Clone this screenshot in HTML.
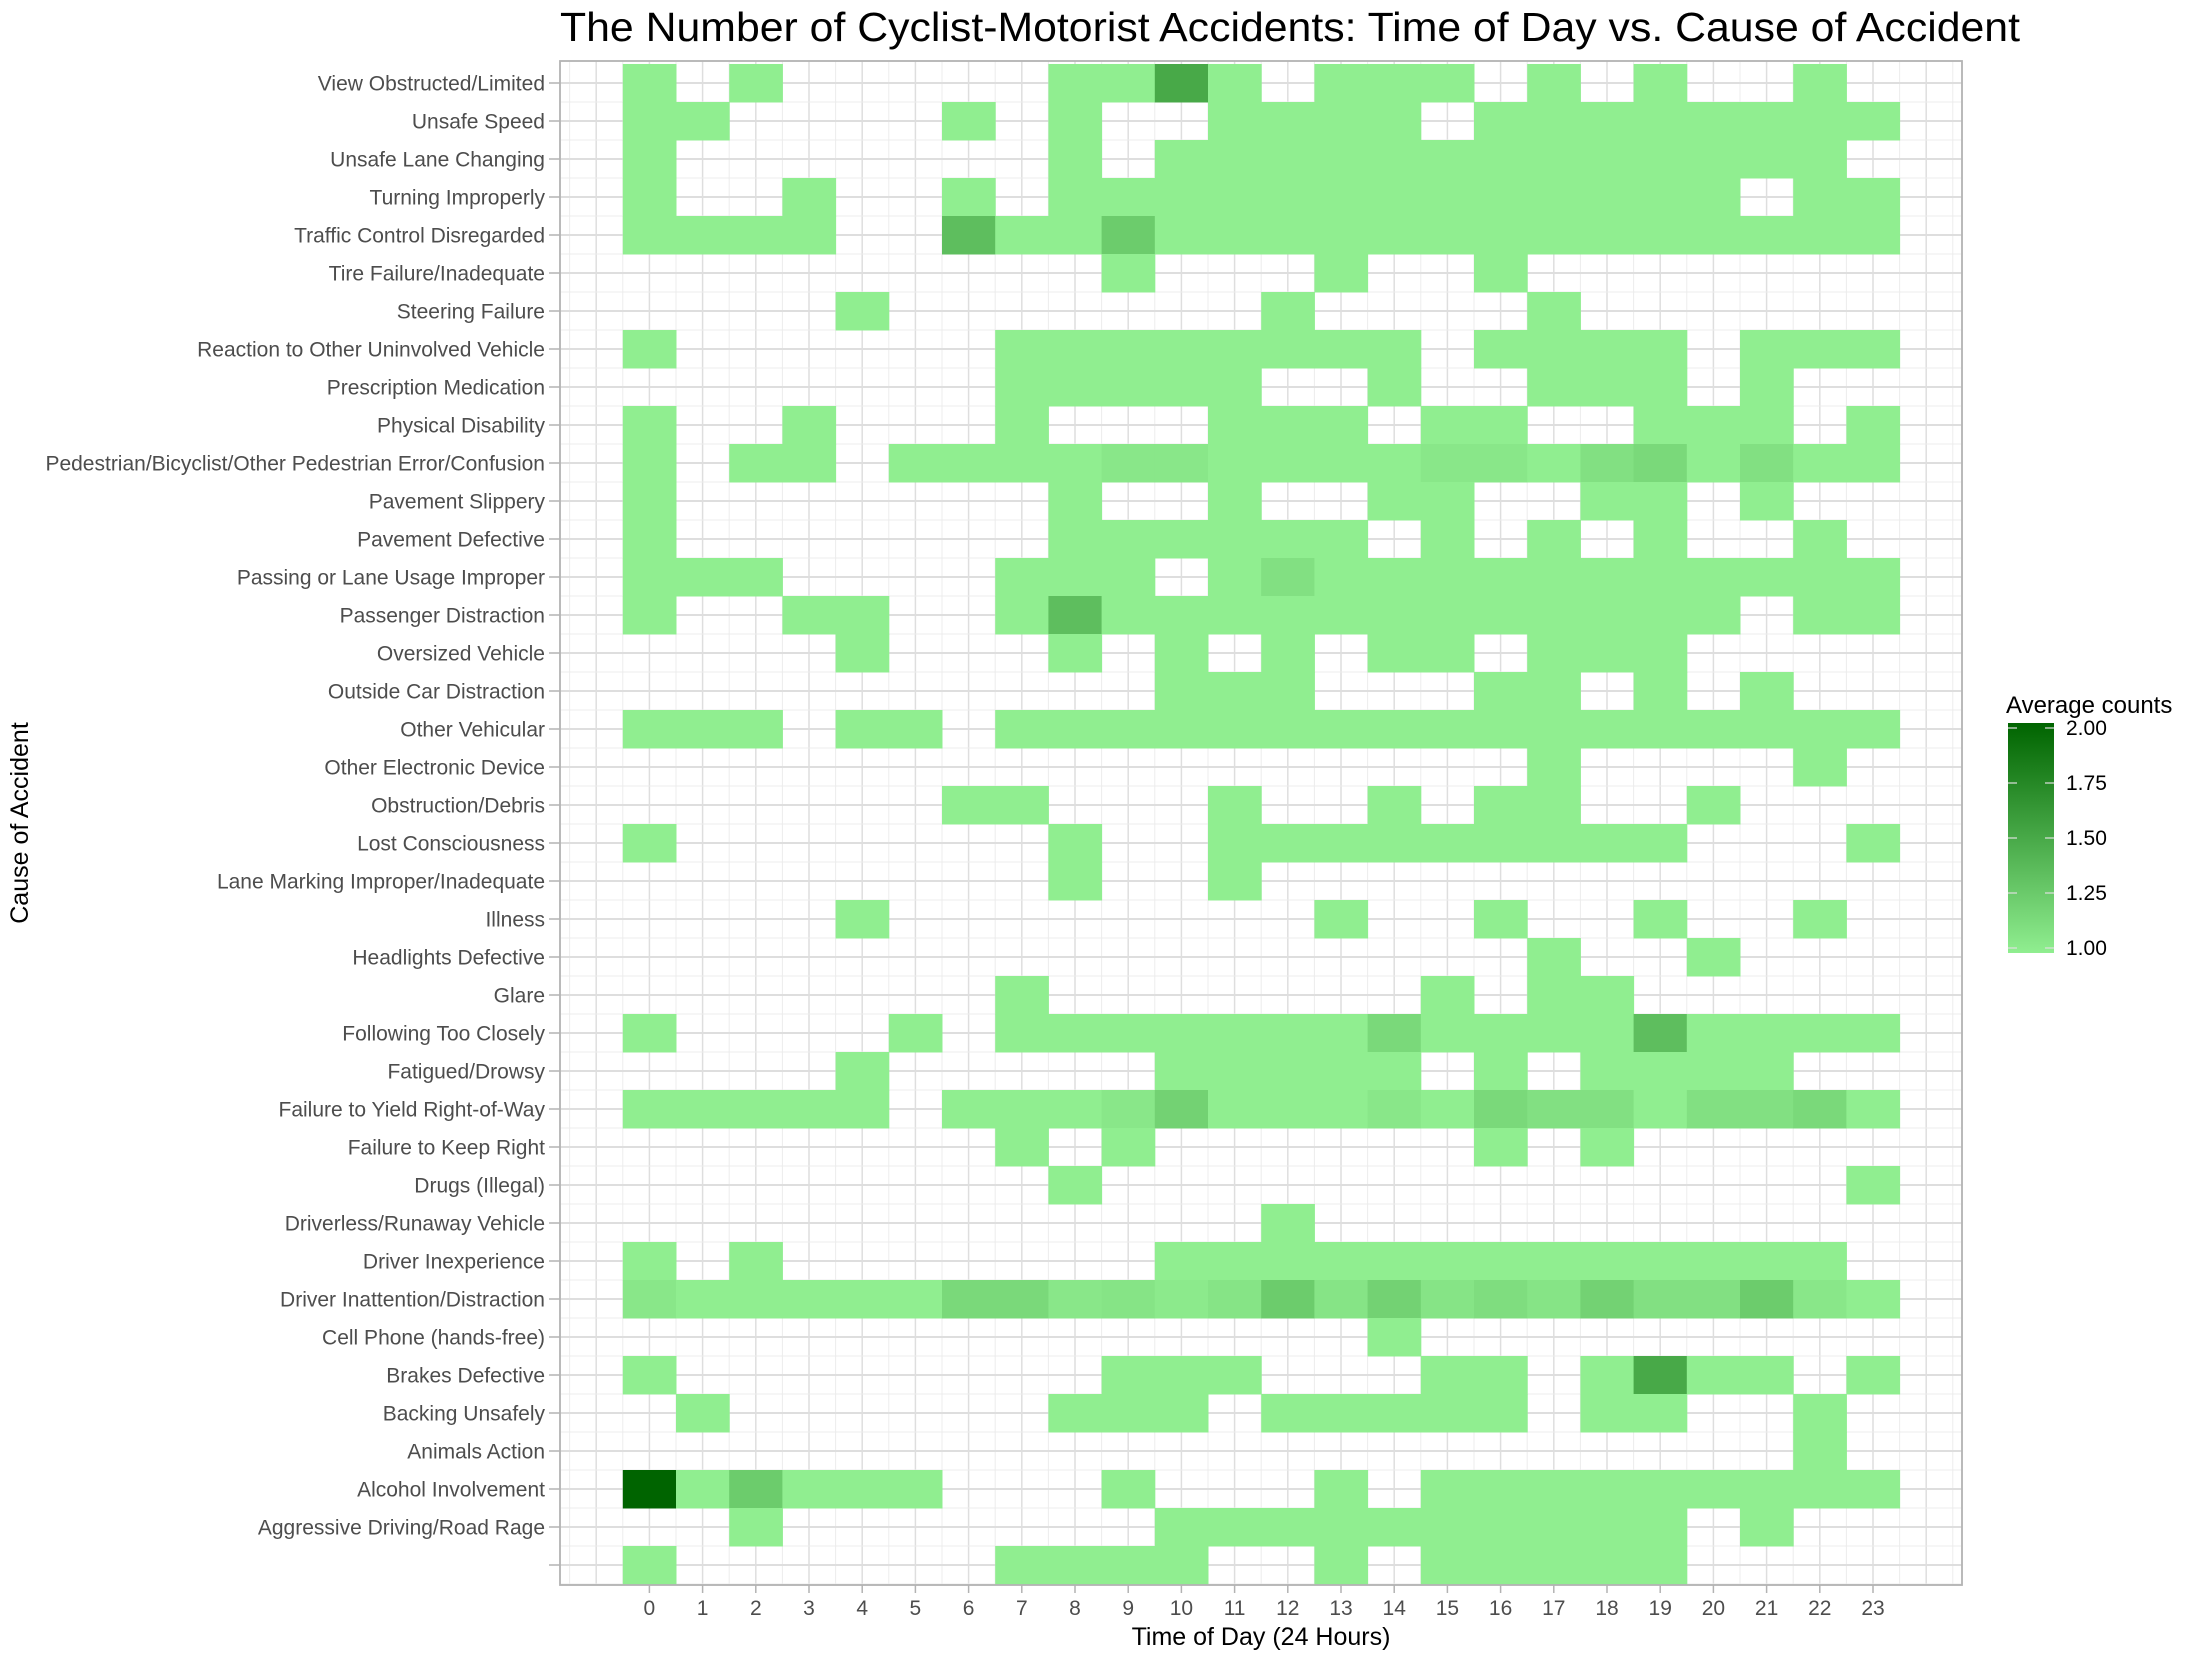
<!DOCTYPE html>
<html><head><meta charset="utf-8"><style>
html,body{margin:0;padding:0;background:#fff;}
svg{display:block;font-family:"Liberation Sans",Arial,sans-serif;}
</style></head><body>
<svg id="chart" xmlns="http://www.w3.org/2000/svg" width="2196" height="1658" viewBox="0 0 2196 1658">
<rect x="0" y="0" width="2196" height="1658" fill="#fff"/>
<text x="560" y="41" font-size="41" fill="#000" textLength="1460" lengthAdjust="spacingAndGlyphs">The Number of Cyclist-Motorist Accidents: Time of Day vs. Cause of Accident</text>
<g id="grid"></g>
<g id="tiles"></g>
<rect x="560" y="61" width="1402" height="1524" fill="none" stroke="#b3b3b3" stroke-width="1.8"/>
<g id="yaxis"></g>
<g id="xaxis"></g>
<text x="1261" y="1645" font-size="25" text-anchor="middle" fill="#000">Time of Day (24 Hours)</text>
<text transform="translate(28,823) rotate(-90)" font-size="25" text-anchor="middle" fill="#000">Cause of Accident</text>
<g>
<text x="2006" y="713" font-size="24" fill="#000">Average counts</text>
<defs><linearGradient id="lg" x1="0" y1="1" x2="0" y2="0">
<stop offset="0" stop-color="#90EE90"/><stop offset="1" stop-color="#006400"/></linearGradient></defs>
<rect x="2008" y="723" width="46" height="230" fill="url(#lg)"/>
<g id="legendticks"></g>
</g>
</svg>
<script>
const causes = ["View Obstructed/Limited","Unsafe Speed","Unsafe Lane Changing","Turning Improperly","Traffic Control Disregarded","Tire Failure/Inadequate","Steering Failure","Reaction to Other Uninvolved Vehicle","Prescription Medication","Physical Disability","Pedestrian/Bicyclist/Other Pedestrian Error/Confusion","Pavement Slippery","Pavement Defective","Passing or Lane Usage Improper","Passenger Distraction","Oversized Vehicle","Outside Car Distraction","Other Vehicular","Other Electronic Device","Obstruction/Debris","Lost Consciousness","Lane Marking Improper/Inadequate","Illness","Headlights Defective","Glare","Following Too Closely","Fatigued/Drowsy","Failure to Yield Right-of-Way","Failure to Keep Right","Drugs (Illegal)","Driverless/Runaway Vehicle","Driver Inexperience","Driver Inattention/Distraction","Cell Phone (hands-free)","Brakes Defective","Backing Unsafely","Animals Action","Alcohol Involvement","Aggressive Driving/Road Rage",""];
const hours = [0,1,2,3,4,5,6,7,8,9,10,11,12,13,14,15,16,17,18,19,20,21,22,23];
const legendTicks = [1.00,1.25,1.50,1.75,2.00];
// average counts per cause (rows) x hour (cols); 0 = no tile
const counts = [
[1,0,1,0,0,0,0,0,1,1,1.5,1,0,1,1,1,0,1,0,1,0,0,1,0],
[1,1,0,0,0,0,1,0,1,0,0,1,1,1,1,0,1,1,1,1,1,1,1,1],
[1,0,0,0,0,0,0,0,1,0,1,1,1,1,1,1,1,1,1,1,1,1,1,0],
[1,0,0,1,0,0,1,0,1,1,1,1,1,1,1,1,1,1,1,1,1,0,1,1],
[1,1,1,1,0,0,1.35,1,1,1.25,1,1,1,1,1,1,1,1,1,1,1,1,1,1],
[0,0,0,0,0,0,0,0,0,1,0,0,0,1,0,0,1,0,0,0,0,0,0,0],
[0,0,0,0,1,0,0,0,0,0,0,0,1,0,0,0,0,1,0,0,0,0,0,0],
[1,0,0,0,0,0,0,1,1,1,1,1,1,1,1,0,1,1,1,1,0,1,1,1],
[0,0,0,0,0,0,0,1,1,1,1,1,0,0,1,0,0,1,1,1,0,1,0,0],
[1,0,0,1,0,0,0,1,0,0,0,1,1,1,0,1,1,0,0,1,1,1,0,1],
[1,0,1,1,0,1,1,1,1,1.05,1.05,1,1,1,1,1.05,1.05,1,1.1,1.15,1,1.1,1,1],
[1,0,0,0,0,0,0,0,1,0,0,1,0,0,1,1,0,0,1,1,0,1,0,0],
[1,0,0,0,0,0,0,0,1,1,1,1,1,1,0,1,0,1,0,1,0,0,1,0],
[1,1,1,0,0,0,0,1,1,1,0,1,1.1,1,1,1,1,1,1,1,1,1,1,1],
[1,0,0,1,1,0,0,1,1.35,1,1,1,1,1,1,1,1,1,1,1,1,0,1,1],
[0,0,0,0,1,0,0,0,1,0,1,0,1,0,1,1,0,1,1,1,0,0,0,0],
[0,0,0,0,0,0,0,0,0,0,1,1,1,0,0,0,1,1,0,1,0,1,0,0],
[1,1,1,0,1,1,0,1,1,1,1,1,1,1,1,1,1,1,1,1,1,1,1,1],
[0,0,0,0,0,0,0,0,0,0,0,0,0,0,0,0,0,1,0,0,0,0,1,0],
[0,0,0,0,0,0,1,1,0,0,0,1,0,0,1,0,1,1,0,0,1,0,0,0],
[1,0,0,0,0,0,0,0,1,0,0,1,1,1,1,1,1,1,1,1,0,0,0,1],
[0,0,0,0,0,0,0,0,1,0,0,1,0,0,0,0,0,0,0,0,0,0,0,0],
[0,0,0,0,1,0,0,0,0,0,0,0,0,1,0,0,1,0,0,1,0,0,1,0],
[0,0,0,0,0,0,0,0,0,0,0,0,0,0,0,0,0,1,0,0,1,0,0,0],
[0,0,0,0,0,0,0,1,0,0,0,0,0,0,0,1,0,1,1,0,0,0,0,0],
[1,0,0,0,0,1,0,1,1,1,1,1,1,1,1.15,1,1,1,1,1.35,1,1,1,1],
[0,0,0,0,1,0,0,0,0,0,1,1,1,1,1,0,1,0,1,1,1,1,0,0],
[1,1,1,1,1,0,1,1,1,1.05,1.2,1,1,1,1.05,1,1.15,1.1,1.1,1,1.1,1.1,1.15,1],
[0,0,0,0,0,0,0,1,0,1,0,0,0,0,0,0,1,0,1,0,0,0,0,0],
[0,0,0,0,0,0,0,0,1,0,0,0,0,0,0,0,0,0,0,0,0,0,0,1],
[0,0,0,0,0,0,0,0,0,0,0,0,1,0,0,0,0,0,0,0,0,0,0,0],
[1,0,1,0,0,0,0,0,0,0,1,1,1,1,1,1,1,1,1,1,1,1,1,0],
[1.05,1,1,1,1,1,1.15,1.15,1.05,1.07,1.03,1.07,1.25,1.07,1.2,1.07,1.12,1.07,1.2,1.1,1.1,1.25,1.05,1],
[0,0,0,0,0,0,0,0,0,0,0,0,0,0,1,0,0,0,0,0,0,0,0,0],
[1,0,0,0,0,0,0,0,0,1,1,1,0,0,0,1,1,0,1,1.5,1,1,0,1],
[0,1,0,0,0,0,0,0,1,1,1,0,1,1,1,1,1,0,1,1,0,0,1,0],
[0,0,0,0,0,0,0,0,0,0,0,0,0,0,0,0,0,0,0,0,0,0,1,0],
[2,1,1.25,1,1,1,0,0,0,1,0,0,0,1,0,1,1,1,1,1,1,1,1,1],
[0,0,1,0,0,0,0,0,0,0,1,1,1,1,1,1,1,1,1,1,0,1,0,0],
[1,0,0,0,0,0,0,1,1,1,1,0,0,1,0,1,1,1,1,1,0,0,0,0]
];

const NS = "http://www.w3.org/2000/svg";
const X0 = 649.4, XSTEP = 53.2, Y0 = 83, YSTEP = 38;
function xScale(h){ return X0 + h*XSTEP; }
function yScale(i){ return Y0 + i*YSTEP; }
function colorScale(v){
  const t = Math.max(0, Math.min(1, v-1));
  const r = Math.round(144*(1-t)), g = Math.round(238-138*t), b = Math.round(144*(1-t));
  return `rgb(${r},${g},${b})`;
}
function mk(tag, attrs, parent){
  const el = document.createElementNS(NS, tag);
  for (const k in attrs) el.setAttribute(k, attrs[k]);
  parent.appendChild(el);
  return el;
}
const grid = document.getElementById('grid');
for (let h = -1.5; h <= 24.5; h += 1){
  const ln = mk('line', {x1:xScale(h), x2:xScale(h), y1:61, y2:1585, stroke:'#ececec', 'stroke-width':1}, grid);
  
  
}
for (let h = -1; h <= 24; h++){
  const ln = mk('line', {x1:xScale(h), x2:xScale(h), y1:61, y2:1585, stroke:'#dedede', 'stroke-width':1.5}, grid);
  
  
}
for (let i = 0; i < causes.length; i++){
  const ln = mk('line', {x1:560, x2:1962, y1:yScale(i), y2:yScale(i), stroke:'#dedede', 'stroke-width':2}, grid);
  
  
  const ln2 = mk('line', {x1:560, x2:1962, y1:yScale(i+0.5), y2:yScale(i+0.5), stroke:'#ececec', 'stroke-width':1}, grid);
  
  
}
const tiles = document.getElementById('tiles');
counts.forEach((row, i) => {
  row.forEach((v, h) => {
    if (!v) return;
    const r = mk('rect', {x:xScale(hours[h]-0.5), y:yScale(i-0.5), width:XSTEP+0.5, height:YSTEP+0.5, fill:colorScale(v)}, tiles);
    
    
  });
});
const yaxis = document.getElementById('yaxis');
causes.forEach((c, i) => {
  const tk = mk('line', {x1:549, x2:560, y1:yScale(i), y2:yScale(i), stroke:'#b3b3b3', 'stroke-width':1.5}, yaxis);
  
  
  const t = mk('text', {x:545, y:yScale(i)+7.5, 'font-size':21, 'text-anchor':'end', fill:'#4d4d4d'}, yaxis);
  t.textContent = c;
  
  
});
const xaxis = document.getElementById('xaxis');
hours.forEach(h => {
  const tk = mk('line', {x1:xScale(h), x2:xScale(h), y1:1585, y2:1593, stroke:'#b3b3b3', 'stroke-width':1.5}, xaxis);
  
  
  const t = mk('text', {x:xScale(h), y:1615, 'font-size':21, 'text-anchor':'middle', fill:'#4d4d4d'}, xaxis);
  t.textContent = String(h);
  
  
});
const lt = document.getElementById('legendticks');
legendTicks.forEach(v => {
  const y = 948 - (v-1)*220;
  const a = mk('line', {x1:2008, x2:2017, y1:y, y2:y, stroke:'#e0e0e0', 'stroke-width':1.2}, lt);
  
  
  const b = mk('line', {x1:2045, x2:2054, y1:y, y2:y, stroke:'#e0e0e0', 'stroke-width':1.2}, lt);
  
  
  const t = mk('text', {x:2066, y:y+7, 'font-size':21, fill:'#000'}, lt);
  t.textContent = v.toFixed(2);
  
  
});
</script>
</body></html>
